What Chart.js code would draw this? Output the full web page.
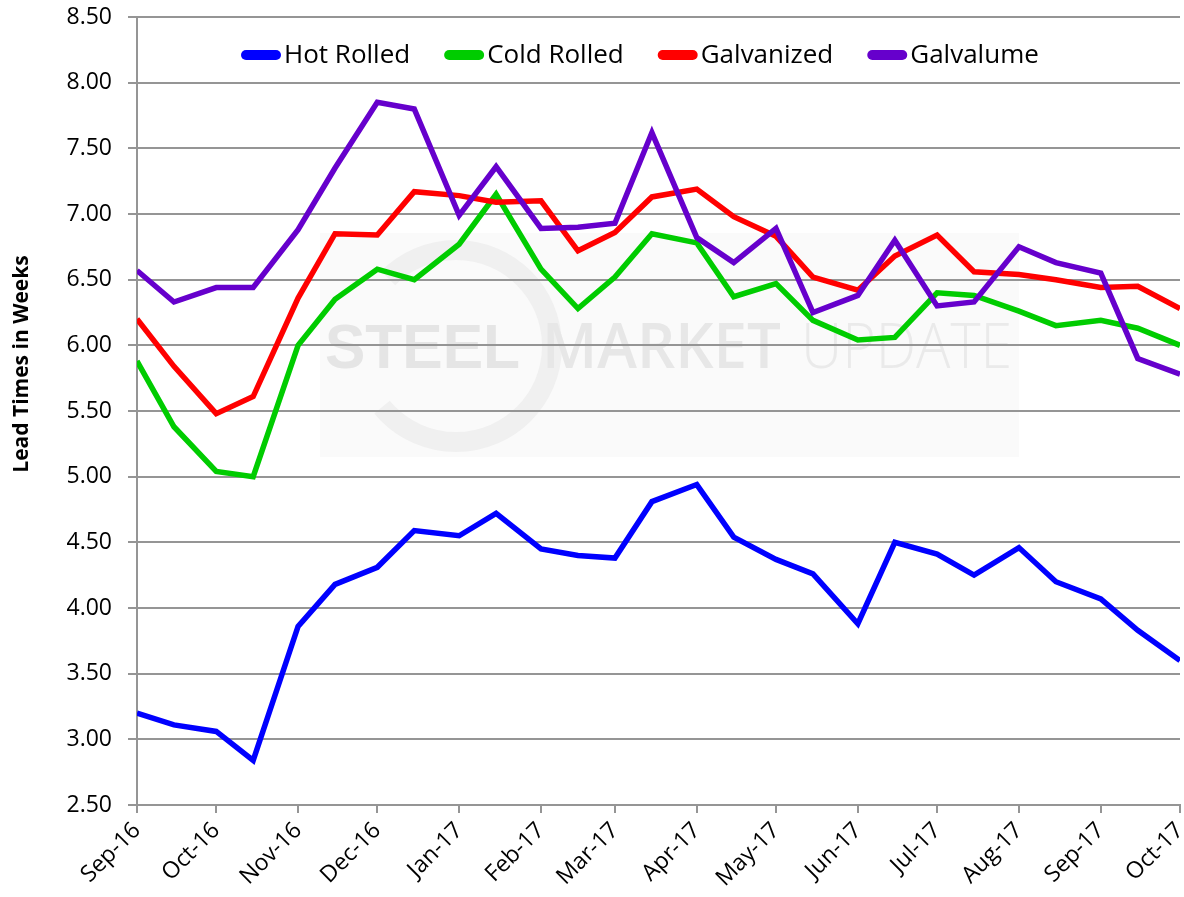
<!DOCTYPE html>
<html>
<head>
<meta charset="utf-8">
<title>Steel Lead Times</title>
<script src="https://cdn.jsdelivr.net/npm/chart.js@4.4.0/dist/chart.umd.min.js"></script>
<style>
    html, body { margin: 0; padding: 0; background: #fff; }
    #wrap { width: 1184px; height: 897px; }
</style>
</head>
<body>
<div id="wrap"><canvas id="leadTimes"></canvas></div>
<script>
// survey dates, twice a month
var surveyDates = [
    '2016-09-01', '2016-09-15', '2016-10-01', '2016-10-15', '2016-11-01', '2016-11-15',
    '2016-12-01', '2016-12-15', '2017-01-01', '2017-01-15', '2017-02-01', '2017-02-15',
    '2017-03-01', '2017-03-15', '2017-04-01', '2017-04-15', '2017-05-01', '2017-05-15',
    '2017-06-01', '2017-06-15', '2017-07-01', '2017-07-15', '2017-08-01', '2017-08-15',
    '2017-09-01', '2017-09-15', '2017-10-01'
];

// lead times in weeks
var hotRolled = [3.20, 3.11, 3.06, 2.84, 3.86, 4.18, 4.31, 4.59, 4.55, 4.72, 4.45, 4.40, 4.38, 4.81,
    4.94, 4.54, 4.37, 4.26, 3.88, 4.50, 4.41, 4.25, 4.46, 4.20, 4.07, 3.83, 3.60];
var coldRolled = [5.88, 5.38, 5.04, 5.00, 6.00, 6.35, 6.58, 6.50, 6.77, 7.15, 6.58, 6.28, 6.52, 6.85,
    6.78, 6.37, 6.47, 6.19, 6.04, 6.06, 6.40, 6.38, 6.26, 6.15, 6.19, 6.13, 6.00];
var galvanized = [6.20, 5.84, 5.48, 5.61, 6.36, 6.85, 6.84, 7.17, 7.14, 7.09, 7.10, 6.72, 6.86, 7.13,
    7.19, 6.98, 6.83, 6.52, 6.42, 6.68, 6.84, 6.56, 6.54, 6.50, 6.44, 6.45, 6.28];
var galvalume = [6.57, 6.33, 6.44, 6.44, 6.88, 7.35, 7.85, 7.80, 6.99, 7.36, 6.89, 6.90, 6.93, 7.62,
    6.82, 6.63, 6.89, 6.25, 6.38, 6.80, 6.30, 6.33, 6.75, 6.63, 6.55, 5.90, 5.78];

// month ticks on the date axis
var monthTicks = [
    '2016-09-01', '2016-10-01', '2016-11-01', '2016-12-01', '2017-01-01', '2017-02-01', '2017-03-01',
    '2017-04-01', '2017-05-01', '2017-06-01', '2017-07-01', '2017-08-01', '2017-09-01', '2017-10-01'
];
var monthLabels = ['Sep-16', 'Oct-16', 'Nov-16', 'Dec-16', 'Jan-17', 'Feb-17', 'Mar-17',
    'Apr-17', 'May-17', 'Jun-17', 'Jul-17', 'Aug-17', 'Sep-17', 'Oct-17'];

var gridColor = '#959595';
var fontFamily = '"Open Sans", "Noto Sans", sans-serif';

function toDay(s) {
    return Date.parse(s) / 86400000;
}

function toPoints(values) {
    return values.map(function (v, i) {
        return { x: toDay(surveyDates[i]), y: v };
    });
}

// faint company logo behind the plot
var backdrop = {
    id: 'backdrop',
    beforeDraw: function (chart) {
        var ctx = chart.ctx;
        ctx.save();
        ctx.fillStyle = '#fafafa';
        ctx.fillRect(320, 233, 699, 224);
        ctx.strokeStyle = '#f0f0f0';
        ctx.lineWidth = 20;
        ctx.beginPath();
        ctx.arc(456, 346, 96, -0.75 * Math.PI, 0.78 * Math.PI);
        ctx.stroke();
        ctx.textBaseline = 'alphabetic';
        ctx.fillStyle = '#e5e5e5';
        ctx.font = 'bold 63px "Liberation Sans"';
        ctx.fillText('STEEL', 325, 368, 195);
        ctx.fillStyle = '#e7e7e7';
        ctx.font = '600 63px "Open Sans"';
        ctx.fillText('MARKET', 542, 368, 239);
        ctx.fillStyle = '#eaeaea';
        ctx.font = '300 63px "Open Sans"';
        ctx.fillText('UPDATE', 801, 368, 211);
        ctx.restore();
    }
};

// legend row drawn inside the top of the plot
var insideLegend = {
    id: 'insideLegend',
    afterDatasetsDraw: function (chart) {
        var ctx = chart.ctx;
        var x = chart.chartArea.left + 104;
        var y = 55;
        ctx.save();
        ctx.font = '26px ' + fontFamily;
        ctx.textBaseline = 'alphabetic';
        chart.data.datasets.forEach(function (ds) {
            ctx.strokeStyle = ds.borderColor;
            ctx.lineWidth = 10;
            ctx.lineCap = 'round';
            ctx.beginPath();
            ctx.moveTo(x + 5, y);
            ctx.lineTo(x + 35, y);
            ctx.stroke();
            ctx.fillStyle = '#000';
            ctx.fillText(ds.label, x + 43, y + 8);
            x += 43 + ctx.measureText(ds.label).width + 34;
        });
        ctx.restore();
    }
};

// rotated y axis title
var yTitle = {
    id: 'yTitle',
    afterDraw: function (chart) {
        var ctx = chart.ctx;
        ctx.save();
        ctx.translate(28, 364);
        ctx.rotate(-Math.PI / 2);
        ctx.font = 'bold 21px ' + fontFamily;
        ctx.fillStyle = '#000';
        ctx.textAlign = 'center';
        ctx.textBaseline = 'alphabetic';
        ctx.fillText('Lead Times in Weeks', 0, 0);
        ctx.restore();
    }
};

var ctx = document.getElementById('leadTimes');
var chart = new Chart(ctx, {
    type: 'line',
    data: {
        datasets: [
            { label: 'Hot Rolled', data: toPoints(hotRolled), borderColor: '#0000ff', backgroundColor: '#0000ff', order: 3 },
            { label: 'Cold Rolled', data: toPoints(coldRolled), borderColor: '#00cc00', backgroundColor: '#00cc00', order: 2 },
            { label: 'Galvanized', data: toPoints(galvanized), borderColor: '#ff0000', backgroundColor: '#ff0000', order: 1 },
            { label: 'Galvalume', data: toPoints(galvalume), borderColor: '#6600cc', backgroundColor: '#6600cc', order: 0 }
        ]
    },
    options: {
        responsive: true,
        maintainAspectRatio: false,
        animation: false,
        layout: { padding: { top: 17, right: 4, left: 0, bottom: 0 } },
        elements: {
            point: { radius: 0 },
            line: { tension: 0, borderWidth: 5.5, fill: false }
        },
        plugins: {
            legend: { display: false },
            tooltip: { enabled: false }
        },
        scales: {
            x: {
                type: 'linear',
                min: toDay(monthTicks[0]),
                max: toDay(monthTicks[monthTicks.length - 1]),
                afterBuildTicks: function (scale) {
                    scale.ticks = monthTicks.map(function (d) { return { value: toDay(d) }; });
                },
                afterFit: function (scale) {
                    scale.height = 92;
                    scale.paddingLeft = 0;
                    scale.paddingRight = 0;
                },
                grid: { drawOnChartArea: false, tickLength: 8, color: gridColor, lineWidth: 2 },
                border: { color: gridColor, width: 2 },
                ticks: {
                    autoSkip: false,
                    maxRotation: 45,
                    minRotation: 45,
                    padding: 4,
                    color: '#000',
                    font: { family: fontFamily, size: 23 },
                    callback: function (value, index) { return monthLabels[index]; }
                }
            },
            y: {
                min: 2.5,
                max: 8.5,
                afterFit: function (scale) {
                    scale.width = 137;
                    scale.paddingTop = 0;
                    scale.paddingBottom = 0;
                },
                grid: { color: gridColor, lineWidth: 2, tickLength: 9 },
                border: { color: gridColor, width: 2 },
                ticks: {
                    stepSize: 0.5,
                    padding: 16,
                    color: '#000',
                    font: { family: fontFamily, size: 23 },
                    callback: function (value) { return value.toFixed(2); }
                }
            }
        }
    },
    plugins: [backdrop, insideLegend, yTitle]
});
</script>
</body>
</html>
